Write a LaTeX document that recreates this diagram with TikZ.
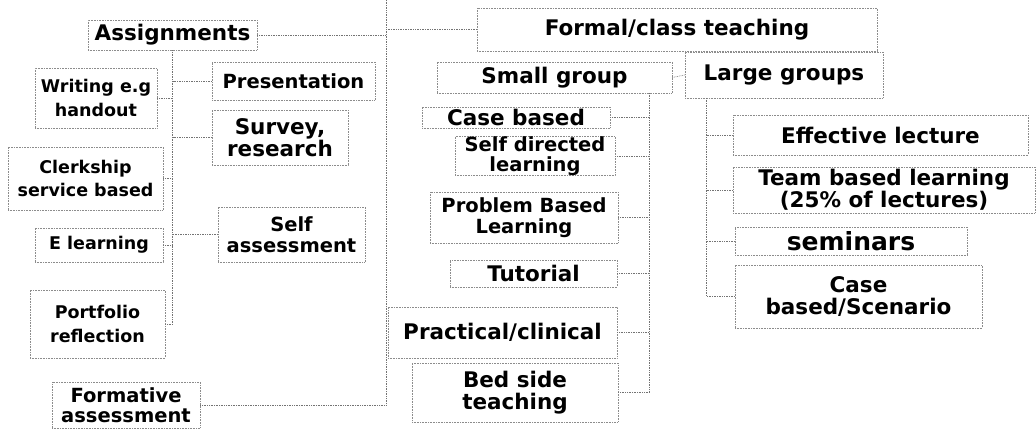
\documentclass[tikz,border=0pt]{standalone}
\usepackage{fontspec}
\setmainfont{DejaVu Sans}
\usepackage{tikz}
\tikzset{
  box/.style={draw=black!45, densely dotted, line width=0.6pt, rectangle, align=center, inner sep=0pt, font=\bfseries},
  link/.style={draw=black!55, densely dotted, line width=0.7pt},
  fsmall/.style={font=\bfseries\fontsize{17.5}{23.5}\selectfont},
  fmid/.style={font=\bfseries\fontsize{19.5}{20.5}\selectfont},
  fbig/.style={font=\bfseries\fontsize{21.5}{21.5}\selectfont},
  fhuge/.style={font=\bfseries\fontsize{25}{25}\selectfont}
}

\begin{document}
\begin{tikzpicture}[x=1pt, y=-1pt]
\useasboundingbox (0,0) rectangle (1036,430);

\node[box, fbig, minimum width=169, minimum height=30] (assign) at (172.5,35) {Assignments};
\node[box, fbig, minimum width=400, minimum height=43] (formal) at (677,29.5) {Formal/class teaching};

\node[box, fsmall, minimum width=122, minimum height=60] (writing) at (96,98) {Writing e.g\\handout};
\node[box, fmid, minimum width=163, minimum height=38] (present) at (293.5,81) {Presentation};
\node[box, fbig, minimum width=136, minimum height=55] (survey) at (280,137.5) {Survey,\\research};
\node[box, fsmall, minimum width=155, minimum height=63] (clerk) at (85.5,178.5) {Clerkship\\service based};
\node[box, fmid, minimum width=147, minimum height=55] (selfass) at (291.5,234.5) {Self\\assessment};
\node[box, fsmall, minimum width=128, minimum height=34] (elearn) at (99,245) {E learning};
\node[box, fsmall, minimum width=135, minimum height=68] (portf) at (97.5,324) {Portfolio\\reflection};
\node[box, fmid, minimum width=148, minimum height=46] (formative) at (126,405) {Formative\\assessment};

\node[box, fbig, minimum width=235, minimum height=31] (small) at (554.5,77.5) {Small group};
\node[box, fbig, minimum width=198, minimum height=46] (large) at (784,75) {Large groups};
\node[box, fbig, minimum width=188, minimum height=21] (casebased) at (516,117.5) {Case based};
\node[box, fmid, minimum width=160, minimum height=38] (selfdir) at (535,156) {Self directed\\learning};
\node[box, fmid, minimum width=188, minimum height=51] (pbl) at (524,217.5) {Problem Based\\Learning};
\node[box, fbig, minimum width=167, minimum height=27] (tutorial) at (533.5,273.5) {Tutorial};
\node[box, fbig, minimum width=229, minimum height=51] (practical) at (502.5,332.5) {Practical/clinical};
\node[box, fbig, minimum width=206, minimum height=59] (bedside) at (515,392.5) {Bed side\\teaching};

\node[box, fbig, minimum width=295, minimum height=40] (effective) at (880.5,135) {Effective lecture};
\node[box, fbig, minimum width=302, minimum height=46] (team) at (884,190) {Team based learning\\(25\% of lectures)};
\node[box, fhuge, minimum width=232, minimum height=28] (seminars) at (851,241) {seminars};
\node[box, fbig, minimum width=247, minimum height=63] (casesc) at (858.5,296.5) {Case\\based/Scenario};

\coordinate (trunk) at (386,0);
\coordinate (trunkend) at (386,403);
\coordinate (sg) at (649,93);
\coordinate (lg) at (706,98);

\draw[link] (trunk) -- (trunkend);
\draw[link] (assign.east) -- (assign.east -| trunk);
\draw[link] (formal.west) -- (formal.west -| trunk);
\draw[link] (formative.east) -- (formative.east -| trunk);

\draw[link] (assign.south) -- (assign.south |- portf.east);
\foreach \n in {writing, clerk, elearn, portf} \draw[link] (\n.east) -- (\n.east -| assign.south);
\foreach \n in {present, survey, selfass} \draw[link] (\n.west) -- (\n.west -| assign.south);

\draw[link] (small.east) -- (large.west);
\draw[link] (sg) -- (sg |- bedside.east);
\foreach \n in {casebased, selfdir, pbl, tutorial, practical, bedside} \draw[link] (\n.east) -- (\n.east -| sg);

\draw[link] (lg) -- (lg |- casesc.west);
\foreach \n in {effective, team, seminars, casesc} \draw[link] (\n.west) -- (\n.west -| lg);

\end{tikzpicture}
\end{document}
